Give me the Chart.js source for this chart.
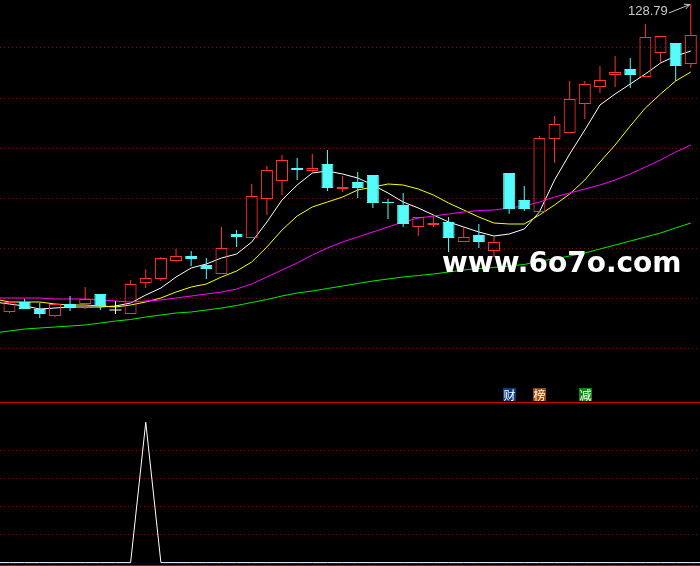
<!DOCTYPE html>
<html><head><meta charset="utf-8">
<script src="https://cdn.jsdelivr.net/npm/chart.js@4/dist/chart.umd.min.js"></script>
<style>
html,body{margin:0;padding:0;background:#000;overflow:hidden;width:700px;height:566px;}
#top{position:absolute;left:0;top:0;}
#bot{position:absolute;left:0;top:402px;}
</style></head><body>
<canvas id="top" width="700" height="402"></canvas>
<canvas id="bot" width="700" height="164"></canvas>
<script>
// ---- data ----
const opens  = [67.2,69.2,67.8,66.4,68.8,68.8,70.8,67.6,66.8,73.0,73.8,77.4,78.4,76.6,74.8,82.8,82.0,89.8,93.4,96.0,95.4,96.8,91.8,93.2,94.6,89.2,88.6,84.2,84.6,85.2,81.2,82.6,79.4,95.0,89.6,87.2,101.8,103.0,108.8,112.2,114.6,115.8,114.2,119.0,121.0,116.8];
const closes = [69.2,67.8,66.8,68.8,68.0,69.8,68.4,67.6,72.8,74.0,78.0,78.4,77.8,75.8,80.0,82.2,90.4,95.6,97.6,95.6,96.0,92.0,92.2,92.0,89.0,89.0,84.8,86.2,85.0,82.0,82.2,81.2,81.2,87.8,87.8,102.0,104.8,109.8,112.8,113.6,115.2,114.6,122.2,122.4,116.4,122.6];
const highs  = [69.2,69.8,69.0,68.8,70.4,72.2,70.8,69.4,73.6,75.8,78.2,79.8,79.4,78.0,84.2,83.6,92.8,96.4,98.6,98.0,98.8,99.6,94.4,95.2,94.6,89.8,91.0,86.2,86.6,86.2,84.2,84.8,82.2,95.0,92.4,102.4,106.4,113.4,113.4,116.4,118.4,118.0,124.8,122.4,121.0,128.79];
const lows   = [67.0,67.8,66.0,66.2,67.4,67.8,67.6,66.8,66.8,72.0,73.4,77.2,76.4,73.8,74.8,80.2,82.0,86.6,90.6,93.6,94.8,91.4,91.2,90.0,88.0,85.8,84.2,82.4,84.2,79.2,81.2,80.0,78.2,86.8,87.4,87.2,97.0,103.0,105.8,111.0,112.2,112.0,114.2,117.0,113.4,116.0];

// moving averages, first value belongs to the bar before the first visible one
const maStart = -1;
const ma5  = [69.2,68.8,68.4,67.8,68.0,68.2,68.2,68.2,68.4,69.0,70.6,72.0,74.2,76.0,76.8,78.0,78.8,81.2,85.2,89.6,92.6,95.0,95.4,94.8,94.0,92.6,91.0,89.2,88.0,86.6,85.2,84.2,83.2,82.4,82.8,83.8,87.2,93.6,98.8,103.6,108.6,110.8,112.8,114.8,117.0,118.4,119.4];
const ma10 = [69.8,69.2,69.2,69.2,68.8,68.6,68.6,68.4,68.2,68.6,69.2,70.0,71.2,72.2,72.8,74.2,75.4,77.2,80.2,83.6,86.4,88.2,89.2,90.2,91.6,92.2,92.8,92.6,91.8,90.6,89.0,87.6,86.2,85.0,84.8,84.8,86.6,88.6,90.8,93.6,97.2,100.6,104.4,108.0,110.8,113.4,115.2];
const ma20 = [70.0,70.0,70.0,70.0,69.8,69.8,69.8,69.6,69.4,69.2,69.4,69.6,70.0,70.4,70.8,71.2,71.8,72.8,74.2,75.6,77.0,78.6,80.0,81.2,82.2,83.2,84.2,85.2,86.0,86.4,86.8,87.2,87.5,87.6,88.0,88.4,89.2,90.2,91.0,91.8,92.6,93.6,94.8,96.2,97.6,99.2,100.6];
const ma60 = [63.0,63.4,63.8,64.0,64.2,64.4,64.6,65.0,65.4,65.7,66.2,66.6,67.0,67.2,67.6,68.0,68.5,69.1,69.7,70.4,71.0,71.4,71.9,72.4,72.9,73.4,73.8,74.2,74.5,74.8,75.2,75.6,75.9,76.1,76.4,76.7,77.4,77.8,78.4,79.0,79.8,80.6,81.4,82.2,83.0,84.0,85.0];

// lower indicator panel (first value: bar before the first visible one)
const signal = [0,0,0,0,0,0,0,0,0,0,5,0,0,0,0,0,0,0,0,0,0,0,0,0,0,0,0,0,0,0,0,0,0,0,0,0,0,0,0,0,0,0,0,0,0,0,0,0];

// grid / tick values
const priceGrid = [60,70,80,90,100,110,120];
const signalGrid = [1,2,3,4];

// event markers
const markerBars   = [33,35,38];
const markerTexts  = ['财','榜','减'];
const markerColors = ['#0d3c80','#9a4a08','#0c8a14'];

const watermark = 'www.6o7o.com';

// ---- styles ----
const RED = '#ff3434', CYAN = '#54fcfc', WHITE = '#ffffff';
const GRID = '#a00000', FRAME = '#cc0000';
const X_MIN = -0.627, X_MAX = 45.607;

const bars = opens.map((_, i) => i);
const colorOf = i => closes[i] > opens[i] ? RED : (closes[i] < opens[i] ? CYAN : WHITE);
const candleColors = bars.map(colorOf);
const bodyFill = bars.map(i => closes[i] > opens[i] ? 'rgba(0,0,0,0)' : colorOf(i));

const bodyData = bars.map(i => ({x: i, y: opens[i] === closes[i] ? null : [opens[i], closes[i]]}));
const upperWick = bars.map(i => { const t = Math.max(opens[i], closes[i]); return {x: i, y: highs[i] > t ? [t, highs[i]] : null}; });
const lowerWick = bars.map(i => { const b = Math.min(opens[i], closes[i]); return {x: i, y: lows[i] < b ? [lows[i], b] : null}; });
const dojiData = bars.filter(i => opens[i] === closes[i]).map(i => ({x: i, y: opens[i]}));
const series = arr => arr.map((v, k) => ({x: maStart + k, y: v}));

const lineDs = (data, color) => ({type: 'line', data: series(data), borderColor: color, borderWidth: 1, pointRadius: 0, tension: 0, order: 10});
const wickDs = data => ({type: 'bar', data, backgroundColor: candleColors, borderWidth: 0, barThickness: 1, grouped: false, inflateAmount: 0, order: 3});

const overlay = {
  id: 'overlay',
  afterDatasetsDraw(chart) {
    const {ctx, scales: {x, y}} = chart;
    ctx.save();
    // highest price label with arrow
    const last = highs.length - 1;
    const hx = x.getPixelForValue(last), hy = y.getPixelForValue(highs[last]);
    ctx.fillStyle = '#c8c8c8';
    ctx.strokeStyle = '#c8c8c8';
    ctx.font = '13px "Liberation Sans", Arial, sans-serif';
    ctx.textAlign = 'right';
    ctx.textBaseline = 'alphabetic';
    ctx.fillText(highs[last].toFixed(2), hx - 23, 15);
    const sx = hx - 22, sy = 13, ex = hx - 1, ey = hy + 0.5;
    ctx.lineWidth = 1;
    ctx.beginPath(); ctx.moveTo(sx, sy); ctx.lineTo(ex, ey); ctx.stroke();
    const ang = Math.atan2(ey - sy, ex - sx);
    ctx.beginPath();
    ctx.moveTo(ex - 6 * Math.cos(ang - 0.45), ey - 6 * Math.sin(ang - 0.45));
    ctx.lineTo(ex, ey);
    ctx.lineTo(ex - 6 * Math.cos(ang + 0.45), ey - 6 * Math.sin(ang + 0.45));
    ctx.stroke();

    // event markers
    ctx.font = '12px "Noto Sans CJK SC", sans-serif';
    ctx.textAlign = 'center';
    ctx.textBaseline = 'middle';
    markerBars.forEach((b, k) => {
      const mx = Math.round(x.getPixelForValue(b));
      ctx.fillStyle = markerColors[k];
      ctx.fillRect(mx - 6, 388, 13, 13);
      ctx.fillStyle = '#ffffff';
      ctx.fillText(markerTexts[k], mx + 0.5, 395);
    });

    // watermark
    ctx.font = 'bold 28px "DejaVu Sans", sans-serif';
    ctx.textAlign = 'left';
    ctx.textBaseline = 'alphabetic';
    ctx.fillStyle = '#ffffff';
    ctx.fillText(watermark, 442, 272);
    ctx.restore();
  }
};

const hiddenY = (min, max, grid) => ({
  type: 'linear', min, max,
  afterBuildTicks: s => { s.ticks = grid.map(v => ({value: v})); },
  afterFit: s => { s.width = 0; },
  ticks: {display: false},
  grid: {color: GRID, lineWidth: 1, drawTicks: false},
  border: {display: false, dash: [1, 3]}
});

const hiddenX = () => ({type: 'linear', min: X_MIN, max: X_MAX, offset: false, display: false, grid: {offset: false}});

const common = {
  responsive: false, animation: false, devicePixelRatio: 1, events: [],
  layout: {padding: 0, autoPadding: false},
  plugins: {legend: {display: false}, tooltip: {enabled: false}}
};

new Chart(document.getElementById('top'), {
  type: 'bar',
  data: {datasets: [
    lineDs(ma60, '#00ee00'),
    lineDs(ma20, '#ff00ff'),
    lineDs(ma10, '#ffff00'),
    lineDs(ma5, '#ffffff'),
    wickDs(upperWick),
    wickDs(lowerWick),
    {type: 'bar', data: bodyData, backgroundColor: bodyFill, borderColor: candleColors, borderWidth: 1,
     borderSkipped: false, barThickness: 12, grouped: false, inflateAmount: 0, order: 2},
    {type: 'line', data: dojiData, showLine: false, pointStyle: 'line', pointRadius: 6,
     pointBorderColor: WHITE, pointBorderWidth: 1, order: 1}
  ]},
  options: Object.assign({}, common, {
    scales: {x: hiddenX(), y: hiddenY(49.2, 129.6, priceGrid)}
  }),
  plugins: [overlay]
});

const frame = {
  id: 'frame',
  afterDraw(chart) {
    const {ctx, width, height} = chart;
    ctx.save();
    ctx.strokeStyle = FRAME; ctx.lineWidth = 1;
    ctx.beginPath();
    ctx.moveTo(0, 0.5); ctx.lineTo(width, 0.5);
    ctx.moveTo(0, height - 0.5); ctx.lineTo(width, height - 0.5);
    ctx.stroke();
    ctx.restore();
  }
};

new Chart(document.getElementById('bot'), {
  type: 'line',
  data: {datasets: [
    {data: series(signal), borderColor: '#ffffff', borderWidth: 1, pointRadius: 0, tension: 0}
  ]},
  options: Object.assign({}, common, {
    scales: {x: hiddenX(), y: hiddenY(-0.12, 5.72, signalGrid)}
  }),
  plugins: [frame]
});
</script>
</body></html>
